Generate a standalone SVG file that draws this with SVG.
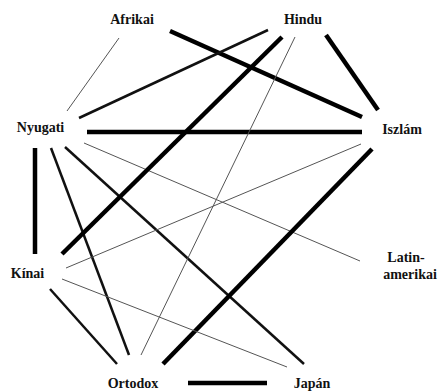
<svg xmlns="http://www.w3.org/2000/svg" width="439" height="392" viewBox="0 0 439 392">
<style>
text{font-family:"Liberation Serif","Times New Roman",serif;font-weight:bold;font-size:14px;fill:#111;text-anchor:middle}
.thin{stroke:#555;stroke-width:1}
.med{stroke:#111;stroke-width:2.5}
.thick{stroke:#000;stroke-width:4.5}
</style>
<rect width="439" height="392" fill="#fff"/>
<g id="connectors" fill="none">
<line class="thin" x1="119" y1="38" x2="67" y2="111"/>
<line class="thick" x1="170" y1="31" x2="362" y2="117"/>
<line class="med" x1="79" y1="118" x2="268" y2="30"/>
<line class="thick" x1="87" y1="132" x2="362" y2="132"/>
<line class="thin" x1="84" y1="143" x2="360" y2="261"/>
<line class="thick" x1="35" y1="148" x2="35" y2="254"/>
<line class="med" x1="51" y1="148" x2="129" y2="355"/>
<line class="med" x1="65" y1="147" x2="304" y2="364"/>
<line class="thick" x1="282" y1="37" x2="62" y2="254"/>
<line class="thin" x1="295" y1="37" x2="141" y2="355"/>
<line class="thick" x1="326" y1="35" x2="378" y2="110"/>
<line class="thin" x1="361" y1="144" x2="66" y2="268"/>
<line class="thick" x1="372" y1="149" x2="163" y2="364"/>
<line class="thin" x1="62" y1="279" x2="287" y2="367"/>
<line class="med" x1="50" y1="289" x2="117" y2="364"/>
<line class="thick" x1="188" y1="383" x2="267" y2="383"/>
</g>
<g id="afrikai"><text x="132" y="24">Afrikai</text></g>
<g id="hindu"><text x="303" y="24">Hindu</text></g>
<g id="nyugati"><text x="40.5" y="132">Nyugati</text></g>
<g id="iszlam"><text x="402" y="134">Iszlám</text></g>
<g id="latinamerikai"><text x="406" y="262">Latin-</text><text x="410" y="279">amerikai</text></g>
<g id="kinai"><text x="27.5" y="278">Kínai</text></g>
<g id="ortodox"><text x="133" y="388">Ortodox</text></g>
<g id="japan"><text x="312" y="388">Japán</text></g>
</svg>
